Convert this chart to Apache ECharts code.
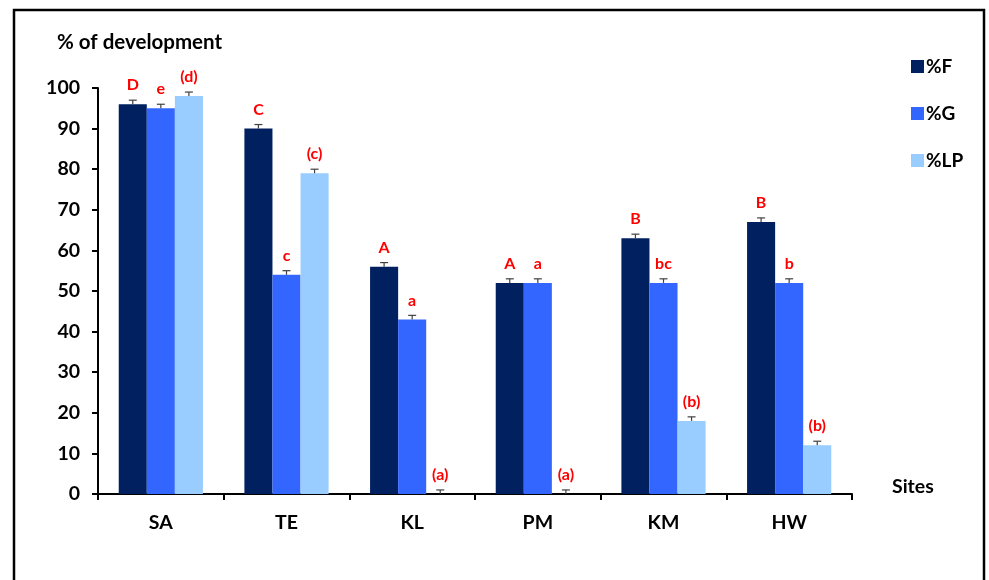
<!DOCTYPE html>
<html>
<head>
<meta charset="utf-8">
<script src="https://cdn.jsdelivr.net/npm/echarts@6/dist/echarts.min.js"></script>
<style>
  html, body { margin: 0; padding: 0; background: #fff; }
  #chart { width: 989px; height: 580px; }
</style>
</head>
<body>
<div id="chart"></div>
<script>
// Sites on the x axis
const sites = ['SA', 'TE', 'KL', 'PM', 'KM', 'HW'];

// % of development per site
const pctF  = [96, 90, 56, 52, 63, 67];
const pctG  = [95, 54, 43, 52, 52, 52];
const pctLP = [98, 79, 0, 0, 18, 12];

// standard errors
const errF  = [1, 1, 1, 1, 1, 1];
const errG  = [1, 1, 1, 1, 1, 1];
const errLP = [1, 1, 1, 1, 1, 1];

// significance letters
const letF  = ['D', 'C', 'A', 'A', 'B', 'B'];
const letG  = ['e', 'c', 'a', 'a', 'bc', 'b'];
const letLP = ['(d)', '(c)', '(a)', '(a)', '(b)', '(b)'];

const yTicks = [0, 10, 20, 30, 40, 50, 60, 70, 80, 90, 100];

const FONT = 'Lato, "Open Sans", sans-serif';
const CAT_GAP = 0.33;
const colors = ['#002060', '#3366FF', '#99CCFF'];

const seriesDefs = [
  { name: '%F',  values: pctF,  errs: errF,  letters: letF },
  { name: '%G',  values: pctG,  errs: errG,  letters: letG },
  { name: '%LP', values: pctLP, errs: errLP, letters: letLP }
];

const chart = echarts.init(document.getElementById('chart'), null, { renderer: 'canvas' });

const barSeries = seriesDefs.map((s, si) => ({
  name: s.name,
  type: 'bar',
  data: s.values,
  barGap: '0%',
  barCategoryGap: (CAT_GAP * 100) + '%',
  itemStyle: { color: colors[si] },
  label: {
    show: true,
    position: 'top',
    distance: 11,
    color: '#FF0000',
    fontFamily: FONT,
    fontWeight: 'bold',
    fontSize: 16,
    formatter: p => s.letters[p.dataIndex]
  },
  emphasis: { disabled: true },
  z: 2
}));

// error bars drawn at the centre of each bar of the group
const errorSeries = seriesDefs.map((s, si) => ({
  name: s.name + ' err',
  type: 'custom',
  data: s.values.map((v, i) => [i, v, s.errs[i]]),
  encode: { x: 0, y: 1 },
  renderItem: (params, api) => {
    const i = api.value(0);
    const v = api.value(1);
    const e = api.value(2);
    const band = api.size([1, 0])[0];
    const barW = band * (1 - CAT_GAP) / 3;
    const base = api.coord([i, v]);
    const top = api.coord([i, v + e]);
    const x = base[0] + (si - 1) * barW;
    const cap = 4;
    const style = { stroke: '#404040', lineWidth: 1.2, fill: null };
    return {
      type: 'group',
      children: [
        { type: 'line', shape: { x1: x, y1: base[1], x2: x, y2: top[1] }, style },
        { type: 'line', shape: { x1: x - cap, y1: top[1], x2: x + cap, y2: top[1] }, style }
      ]
    };
  },
  z: 3,
  silent: true
}));

chart.setOption({
  backgroundColor: '#fff',
  animation: false,
  graphic: [
    {
      type: 'rect',
      shape: { x: 14, y: 10, width: 970, height: 590 },
      style: { fill: null, stroke: '#000', lineWidth: 2.5 },
      z: 0
    },
    {
      type: 'text',
      left: 57,
      top: 32,
      style: {
        text: '% of development',
        fill: '#000',
        font: 'bold 20.5px ' + FONT
      }
    }
  ],
  legend: {
    orient: 'vertical',
    left: 906,
    top: 52,
    itemWidth: 13,
    itemHeight: 13,
    itemGap: 28,
    icon: 'rect',
    data: seriesDefs.map(s => s.name),
    textStyle: { fontFamily: FONT, fontWeight: 'bold', fontSize: 19, color: '#000', padding: [0, 0, 0, -3] }
  },
  grid: { left: 98, right: 137, top: 88, bottom: 86, containLabel: false },
  xAxis: {
    type: 'category',
    data: sites,
    name: 'Sites',
    nameLocation: 'end',
    nameGap: 40,
    nameTextStyle: { fontFamily: FONT, fontWeight: 'bold', fontSize: 19.5, color: '#000', verticalAlign: 'bottom', lineHeight: 14 },
    axisLine: { lineStyle: { color: '#000', width: 2 } },
    axisTick: { show: true, length: 6, inside: false, lineStyle: { color: '#000', width: 2 } },
    axisLabel: { fontFamily: FONT, fontWeight: 'bold', fontSize: 19.5, color: '#000', margin: 19 },
    splitLine: { show: false }
  },
  yAxis: {
    type: 'value',
    min: yTicks[0],
    max: yTicks[yTicks.length - 1],
    interval: yTicks[1] - yTicks[0],
    axisLine: { show: true, lineStyle: { color: '#000', width: 2 } },
    axisTick: { show: true, length: 6, lineStyle: { color: '#000', width: 2 } },
    axisLabel: { fontFamily: FONT, fontWeight: 'bold', fontSize: 19.5, color: '#000', margin: 18 },
    splitLine: { show: false }
  },
  series: [...barSeries, ...errorSeries]
});
</script>
</body>
</html>
